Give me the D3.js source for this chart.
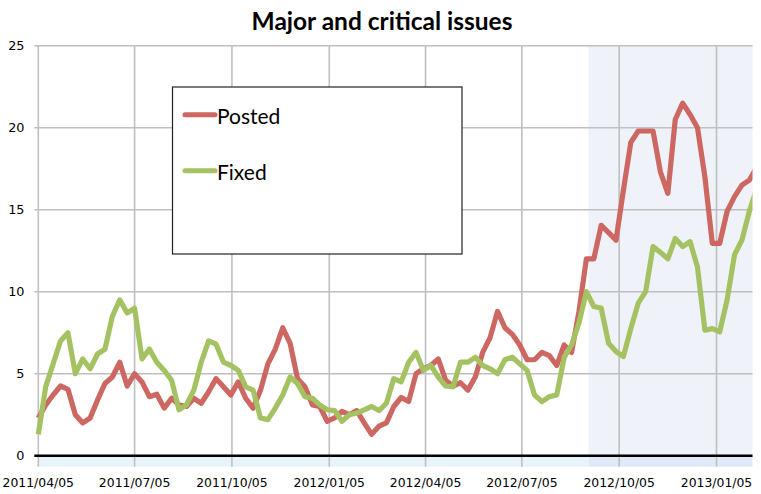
<!DOCTYPE html>
<html>
<head>
<meta charset="utf-8">
<script src="https://cdn.jsdelivr.net/npm/d3@7"></script>
<style>
  html, body { margin: 0; padding: 0; background: #fff; }
  svg { display: block; }
</style>
</head>
<body>
<svg id="chart" width="761" height="494"></svg>
<script>
// ---- data ----
const title = "Major and critical issues";
const seriesNames = ["Posted", "Fixed"];
const startDate = "2011-04-05";   // first weekly sample
const endDate = "2013-02-08";     // right edge of the plot
const shadeStart = "2012-09-06";  // start of highlighted period
const tickDates = ["2011-04-05", "2011-07-05", "2011-10-05", "2012-01-05",
                   "2012-04-05", "2012-07-05", "2012-10-05", "2013-01-05"];
const yTicks = [0, 5, 10, 15, 20, 25];

const posted = [2.3, 3.1, 3.7, 4.25, 4.05, 2.5, 2.0, 2.3, 3.4, 4.4,
                4.8, 5.7, 4.25, 5.0, 4.5, 3.6, 3.75, 2.9, 3.5, 3.1,
                3.0, 3.5, 3.2, 3.9, 4.7, 4.2, 3.7, 4.5, 3.5, 2.9,
                4.0, 5.6, 6.5, 7.8, 6.85, 4.7, 4.2, 3.1, 3.0, 2.1,
                2.3, 2.7, 2.5, 2.75, 2.0, 1.3, 1.8, 2.0, 3.0, 3.55,
                3.3, 5.0, 5.3, 5.5, 5.9, 4.6, 4.25, 4.45, 4.0, 4.8,
                6.3, 7.2, 8.8, 7.8, 7.4, 6.75, 5.85, 5.85, 6.3, 6.1,
                5.5, 6.75, 6.3, 8.8, 12.0, 12.0, 14.05, 13.6, 13.15, 16.2,
                19.1, 19.8, 19.8, 19.8, 17.3, 16.0, 20.5, 21.5, 20.8, 20.0,
                17.0, 12.95, 12.95, 14.9, 15.8, 16.5, 16.8, 17.6];
const fixed = [1.3, 4.2, 5.6, 7.0, 7.5, 5.0, 5.9, 5.3, 6.2, 6.5,
               8.5, 9.5, 8.7, 9.0, 5.9, 6.5, 5.7, 5.2, 4.6, 2.8,
               3.1, 4.0, 5.7, 7.0, 6.8, 5.7, 5.5, 5.2, 4.2, 4.0,
               2.3, 2.2, 2.9, 3.7, 4.8, 4.4, 3.6, 3.5, 3.1, 2.8,
               2.75, 2.1, 2.5, 2.6, 2.8, 3.0, 2.75, 3.2, 4.7, 4.5,
               5.7, 6.3, 5.2, 5.5, 4.8, 4.25, 4.2, 5.7, 5.7, 6.0,
               5.5, 5.3, 5.0, 5.85, 6.0, 5.6, 5.2, 3.7, 3.3, 3.6,
               3.7, 6.0, 6.75, 8.1, 10.0, 9.1, 9.0, 6.85, 6.35, 6.05,
               7.75, 9.3, 10.0, 12.75, 12.4, 12.0, 13.25, 12.75, 13.05, 11.5,
               7.65, 7.75, 7.55, 9.5, 12.25, 13.15, 14.9, 16.3];
const colors = ["#cc6761", "#a5c263"];

// ---- layout ----
const svg = d3.select("#chart");
const parse = d3.timeParse("%Y-%m-%d");
const fmt = d3.timeFormat("%Y/%m/%d");
const pL = 38.3, pR = 752.5, pT = 45.7, pB = 455.7;

const x = d3.scaleTime().domain([parse(startDate), parse(endDate)]).range([pL, pR]);
const y = d3.scaleLinear().domain([0, 25]).range([pB, pT]);
const dates = posted.map((_, i) => d3.timeWeek.offset(parse(startDate), i));
const xs = x(parse(shadeStart));

// shaded period
svg.append("rect")
  .attr("x", xs).attr("y", pT)
  .attr("width", pR - xs).attr("height", pB - pT)
  .attr("fill", "#eff2f9");
// strip under axis
svg.append("rect").attr("x", pL).attr("y", pB).attr("width", xs - pL)
  .attr("height", 11).attr("fill", "#e7f4fc");
svg.append("rect").attr("x", xs).attr("y", pB)
  .attr("width", pR - xs).attr("height", 11).attr("fill", "#dfeaf6");

// horizontal grid + y labels
const gy = svg.append("g");
yTicks.forEach(t => {
  if (t > 0) {
    gy.append("line").attr("x1", pL - 4).attr("x2", pR)
      .attr("y1", y(t)).attr("y2", y(t))
      .attr("stroke", "#bfbfbf").attr("stroke-width", 1.6);
  }
  gy.append("text").attr("x", 24.5).attr("y", y(t)).attr("dy", "0.36em")
    .attr("text-anchor", "end")
    .attr("font-family", "DejaVu Sans, sans-serif").attr("font-size", 12.8)
    .attr("fill", "#000").text(t);
});

// vertical grid + x labels
const gx = svg.append("g");
tickDates.forEach(d => {
  const xx = x(parse(d));
  gx.append("line").attr("x1", xx).attr("x2", xx).attr("y1", pT).attr("y2", pB + 11)
    .attr("stroke", "#bfbfbf").attr("stroke-width", 1.6);
  gx.append("text").attr("x", xx).attr("y", 487).attr("text-anchor", "middle")
    .attr("font-family", "DejaVu Sans, sans-serif").attr("font-size", 12.4)
    .attr("fill", "#000").text(fmt(parse(d)));
});

// clip
svg.append("clipPath").attr("id", "plotclip").append("rect")
  .attr("x", pL - 3).attr("y", 0).attr("width", pR - pL + 3).attr("height", pB + 10);

const line = d3.line().x((d, i) => x(dates[i])).y(d => y(d));
const lines = svg.append("g").attr("clip-path", "url(#plotclip)");
[posted, fixed].forEach((s, k) => {
  lines.append("path").datum(s).attr("d", line)
    .attr("fill", "none").attr("stroke", colors[k]).attr("stroke-width", 5.2)
    .attr("stroke-linejoin", "round").attr("stroke-linecap", "butt");
});

// zero axis line
svg.append("line").attr("x1", pL - 4).attr("x2", pR).attr("y1", pB).attr("y2", pB)
  .attr("stroke", "#000").attr("stroke-width", 2.4);

// title
svg.append("text").attr("x", 382).attr("y", 30).attr("text-anchor", "middle")
  .attr("font-family", "Lato, sans-serif").attr("font-weight", "bold").attr("font-size", 24.5)
  .attr("fill", "#000").text(title);

// legend
const lg = svg.append("g");
lg.append("rect").attr("x", 172.5).attr("y", 87).attr("width", 289.5).attr("height", 167)
  .attr("fill", "#fff").attr("stroke", "#222").attr("stroke-width", 1.2);
seriesNames.forEach((n, i) => {
  const yy = 114.7 + i * 56;
  lg.append("line").attr("x1", 185).attr("x2", 215).attr("y1", yy).attr("y2", yy)
    .attr("stroke", colors[i]).attr("stroke-width", 5).attr("stroke-linecap", "round");
  lg.append("text").attr("x", 217).attr("y", yy + 9)
    .attr("font-family", "Lato, sans-serif").attr("font-size", 21)
    .attr("fill", "#000").text(n);
});
</script>
</body>
</html>
